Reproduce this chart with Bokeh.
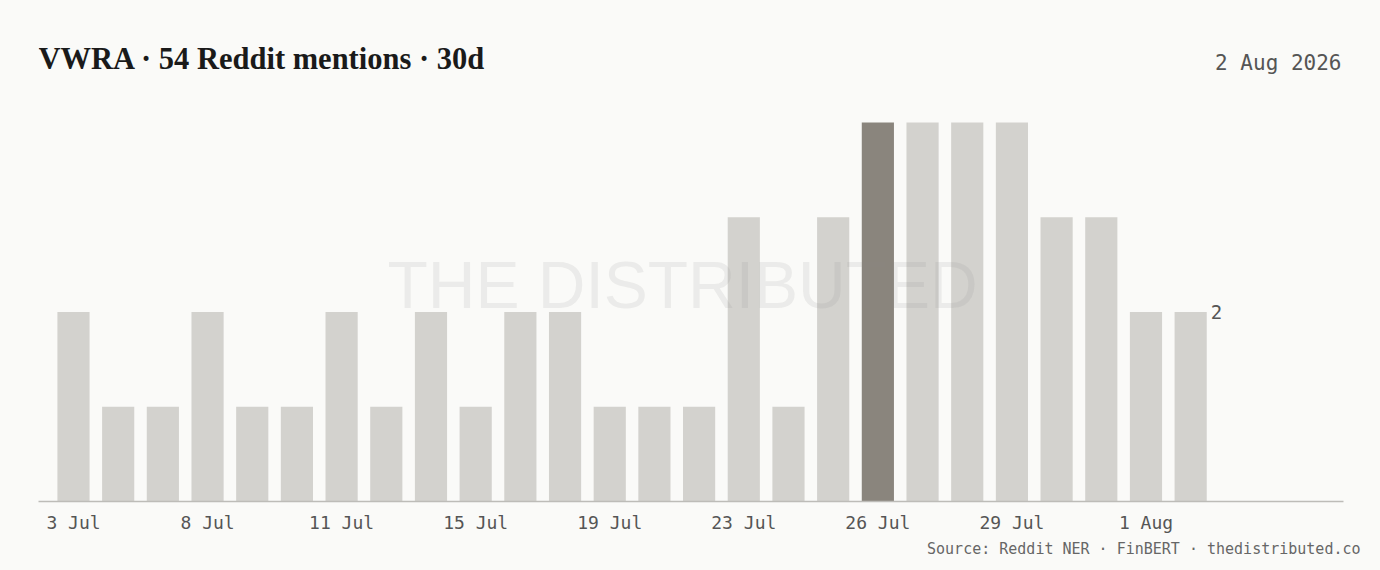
from bokeh.plotting import figure
from bokeh.models import ColumnDataSource, Label, FixedTicker, Range1d, Title
from bokeh.embed import file_html
from bokeh.resources import INLINE

# ---- data ----
dates = ["3 Jul", "5 Jul", "7 Jul", "8 Jul", "9 Jul", "10 Jul", "11 Jul", "12 Jul", "14 Jul",
         "15 Jul", "16 Jul", "18 Jul", "19 Jul", "20 Jul", "22 Jul", "23 Jul", "24 Jul", "25 Jul",
         "26 Jul", "27 Jul", "28 Jul", "29 Jul", "30 Jul", "31 Jul", "1 Aug", "2 Aug"]
mentions = [2, 1, 1, 2, 1, 1, 2, 1, 2, 1, 2, 2, 1, 1, 1, 3, 1, 3, 4, 4, 4, 4, 3, 3, 2, 2]
highlight_date = "26 Jul"
tick_dates = ["3 Jul", "8 Jul", "11 Jul", "15 Jul", "19 Jul", "23 Jul", "26 Jul", "29 Jul", "1 Aug"]
title_text = "VWRA \u00b7 54 Reddit mentions \u00b7 30d"
date_text = "2 Aug 2026"
source_text = "Source: Reddit NER \u00b7 FinBERT \u00b7 thedistributed.co"
watermark_text = "THE DISTRIBUTED"

BG = "#fafaf8"
BAR = "#d3d2ce"
HI = "#8a857d"
MONO = "DejaVu Sans Mono"

idx = list(range(len(dates)))
colors = [HI if d == highlight_date else BAR for d in dates]
src = ColumnDataSource(dict(x=idx, top=mentions, color=colors))

X0, X1 = -0.783, 28.42
Y1 = 5.288
p = figure(width=1380, height=570, output_backend="svg", toolbar_location=None,
           x_range=Range1d(X0, X1), y_range=Range1d(0, Y1),
           min_border_left=38, min_border_right=37, min_border_top=0, min_border_bottom=69,
           background_fill_color=BG, border_fill_color=BG, outline_line_color=None)
p.vbar(x="x", top="top", width=0.72, bottom=0, fill_color="color", line_color=None, source=src)

p.grid.visible = False
p.yaxis.visible = False
ax = p.xaxis[0]
ax.ticker = FixedTicker(ticks=[dates.index(d) for d in tick_dates])
ax.major_label_overrides = {dates.index(d): d for d in tick_dates}
ax.major_tick_line_color = None
ax.minor_tick_line_color = None
ax.axis_line_color = "#bdbcb8"
ax.axis_line_width = 1.5
ax.major_label_text_font = MONO
ax.major_label_text_font_size = "18px"
ax.major_label_text_color = "#555555"
ax.major_label_standoff = 4

# last-value label
last = len(dates) - 1
p.add_layout(Label(x=last + 0.36, y=mentions[last], text=str(mentions[last]), x_offset=4,
                   text_font=MONO, text_font_size="19px", text_color="#555555",
                   text_baseline="middle", text_align="left"))

# watermark
p.add_layout(Label(x=13.63, y=2.28, text=watermark_text, text_font="Liberation Sans",
                   text_font_size="66px", text_color="#888888",
                   text_alpha=0.13, text_align="center", text_baseline="middle", level="overlay"))

# title and date (inside the frame's empty top band)
p.add_layout(Label(x=X0, y=4.675, text=title_text,
                   text_font="Liberation Serif", text_font_size="30.5px", text_font_style="bold",
                   text_color="#1a1a1a", text_align="left", text_baseline="alphabetic"))
p.add_layout(Label(x=X1, y=4.629, x_offset=-2, text=date_text,
                   text_font=MONO, text_font_size="21px", text_color="#555555",
                   text_align="right", text_baseline="alphabetic"))

# source line below the axis
p.add_layout(Title(text=source_text, align="right", offset=-17, standoff=5,
                   text_font=MONO, text_font_size="15px", text_color="#666666",
                   text_font_style="normal"), "below")

html = file_html(p, INLINE)
html = html.replace("<body>", '<body style="background:%s">' % BG)
open("out.html", "w").write(html)
